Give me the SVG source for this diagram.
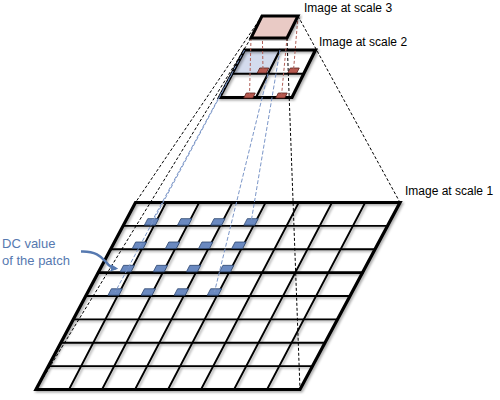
<svg xmlns="http://www.w3.org/2000/svg" xmlns:xlink="http://www.w3.org/1999/xlink" width="500" height="400" viewBox="0 0 500 400">
  <style>
    .lbl { font-family: "Liberation Sans", Arial, sans-serif; font-size: 12px; fill: #000; }
    .dc { font-family: "Liberation Sans", Arial, sans-serif; font-size: 13px; fill: #5679b0; }
    .gl { stroke: #000; stroke-width: 1.8; fill: none; stroke-linecap: round; }
    .gb { stroke: #000; stroke-width: 3.2; fill: none; stroke-linejoin: miter; }
    .bpatch { fill: #6a89c0; stroke: #2d466f; stroke-width: 0.8; }
    .rpatch { fill: #b7594f; stroke: #5a2420; stroke-width: 0.8; }
    .dk { stroke: #000; stroke-width: 1; stroke-dasharray: 3 2; fill: none; }
    .db { stroke: #7b96c8; stroke-width: 1; stroke-dasharray: 4 2; fill: none; }
    .dr { stroke: #b06058; stroke-width: 1; stroke-dasharray: 3 2; fill: none; }
  </style>
  <defs>
    <filter id="sh" x="-10%" y="-10%" width="120%" height="120%">
      <feDropShadow dx="1.5" dy="1.5" stdDeviation="0.8" flood-color="#000" flood-opacity="0.35"/>
    </filter>
    <polygon id="bp" class="bpatch" points="-7.2,3.25 3.8,3.25 7.2,-3.25 -3.8,-3.25"/>
    <polygon id="rp" class="rpatch" points="-5.75,2.5 3.25,2.5 5.75,-2.5 -3.25,-2.5"/>
    <marker id="ah" viewBox="0 0 10 10" refX="7" refY="5" markerWidth="3" markerHeight="3" orient="auto">
      <path d="M0,0 L10,5 L0,10 z" fill="#5679b0"/>
    </marker>
  </defs>
  <rect width="500" height="400" fill="#fff"/>

  <g id="scale1">
    <g filter="url(#sh)">
      <g class="gl">
        <line x1="123.06" y1="225.875" x2="387.5" y2="225.875"/>
        <line x1="110.63" y1="249.25" x2="375" y2="249.25"/>
        <line x1="98.19" y1="272.625" x2="362.5" y2="272.625" stroke-width="2.6"/>
        <line x1="85.75" y1="296" x2="350" y2="296"/>
        <line x1="73.31" y1="319.375" x2="337.5" y2="319.375"/>
        <line x1="60.88" y1="342.75" x2="325" y2="342.75"/>
        <line x1="48.44" y1="366.125" x2="312.5" y2="366.125"/>
        <line x1="166" y1="202.5" x2="69" y2="389.5"/>
        <line x1="199.2" y1="202.5" x2="102" y2="389.5"/>
        <line x1="232.4" y1="202.5" x2="135" y2="389.5"/>
        <line x1="265.6" y1="202.5" x2="168" y2="389.5"/>
        <line x1="298.8" y1="202.5" x2="201" y2="389.5"/>
        <line x1="332" y1="202.5" x2="234" y2="389.5"/>
        <line x1="365.2" y1="202.5" x2="267" y2="389.5"/>
      </g>
      <polygon class="gb" points="135.5,202.5 400,202.5 300,389.5 36,389.5"/>
    </g>
    <g id="dc-patches">
      <use xlink:href="#bp" x="151.6" y="221.9"/>
      <use xlink:href="#bp" x="184.75" y="221.9"/>
      <use xlink:href="#bp" x="217.9" y="221.9"/>
      <use xlink:href="#bp" x="251.1" y="221.9"/>
      <use xlink:href="#bp" x="139.45" y="245.25"/>
      <use xlink:href="#bp" x="172.6" y="245.25"/>
      <use xlink:href="#bp" x="205.75" y="245.25"/>
      <use xlink:href="#bp" x="238.9" y="245.25"/>
      <use xlink:href="#bp" x="127.3" y="268.6"/>
      <use xlink:href="#bp" x="160.45" y="268.6"/>
      <use xlink:href="#bp" x="193.6" y="268.6"/>
      <use xlink:href="#bp" x="226.7" y="268.6"/>
      <use xlink:href="#bp" x="115.2" y="292"/>
      <use xlink:href="#bp" x="148.3" y="292"/>
      <use xlink:href="#bp" x="181.4" y="292"/>
      <use xlink:href="#bp" x="214.5" y="292"/>
    </g>
  </g>

  <g id="scale2">
    <polygon points="244.5,50 280,50 268,73.75 232,73.75" fill="#d3dbed"/>
    <g filter="url(#sh)">
      <g class="gl" style="stroke-width:2.2">
        <line x1="232" y1="73.75" x2="303.75" y2="73.75"/>
        <line x1="280" y1="50" x2="256" y2="97.5"/>
      </g>
      <polygon class="gb" points="244.5,50 315.5,50 292,97.5 219.5,97.5"/>
    </g>
    <use xlink:href="#rp" x="263" y="70.5"/>
    <use xlink:href="#rp" x="293.5" y="70.5"/>
    <use xlink:href="#rp" x="249.5" y="95.5"/>
    <use xlink:href="#rp" x="281.5" y="95.5"/>
  </g>

  <g id="connectors">
    <line class="dk" x1="262" y1="16" x2="135.5" y2="202.5"/>
    <line class="dk" x1="251" y1="38" x2="36" y2="389.5"/>
    <line class="dk" x1="298" y1="16" x2="400" y2="202.5"/>
    <line class="dk" x1="287" y1="38" x2="300" y2="389.5"/>
    <line class="dr" x1="262" y1="16" x2="263" y2="70.5"/>
    <line class="dr" x1="298" y1="16" x2="293.5" y2="70.5"/>
    <line class="dr" x1="251" y1="38" x2="249.5" y2="95.5"/>
    <line class="dr" x1="287" y1="38" x2="281.5" y2="95.5"/>
    <line class="db" x1="244.5" y1="50" x2="151.6" y2="221.9"/>
    <line class="db" x1="280" y1="50" x2="251.1" y2="221.9"/>
    <line class="db" x1="232" y1="73.75" x2="115.2" y2="292"/>
    <line class="db" x1="268" y1="73.75" x2="214.5" y2="292"/>
    <path d="M81,251.5 C95,251 101,256 106,262 C109,266 112,268 116,268.5" fill="none" stroke="#5679b0" stroke-width="2.5" marker-end="url(#ah)"/>
  </g>

  <g id="scale3">
    <polygon points="262,16 298,16 287,38 251,38" fill="#e9cac5" stroke="#000" stroke-width="3" filter="url(#sh)"/>
  </g>

  <g id="labels">
    <text class="lbl" x="304" y="12">Image at scale 3</text>
    <text class="lbl" x="319" y="46">Image at scale 2</text>
    <text class="lbl" x="405" y="195">Image at scale 1</text>
    <text class="dc" x="2" y="248">DC value</text>
    <text class="dc" x="2" y="265">of the patch</text>
  </g>
</svg>
